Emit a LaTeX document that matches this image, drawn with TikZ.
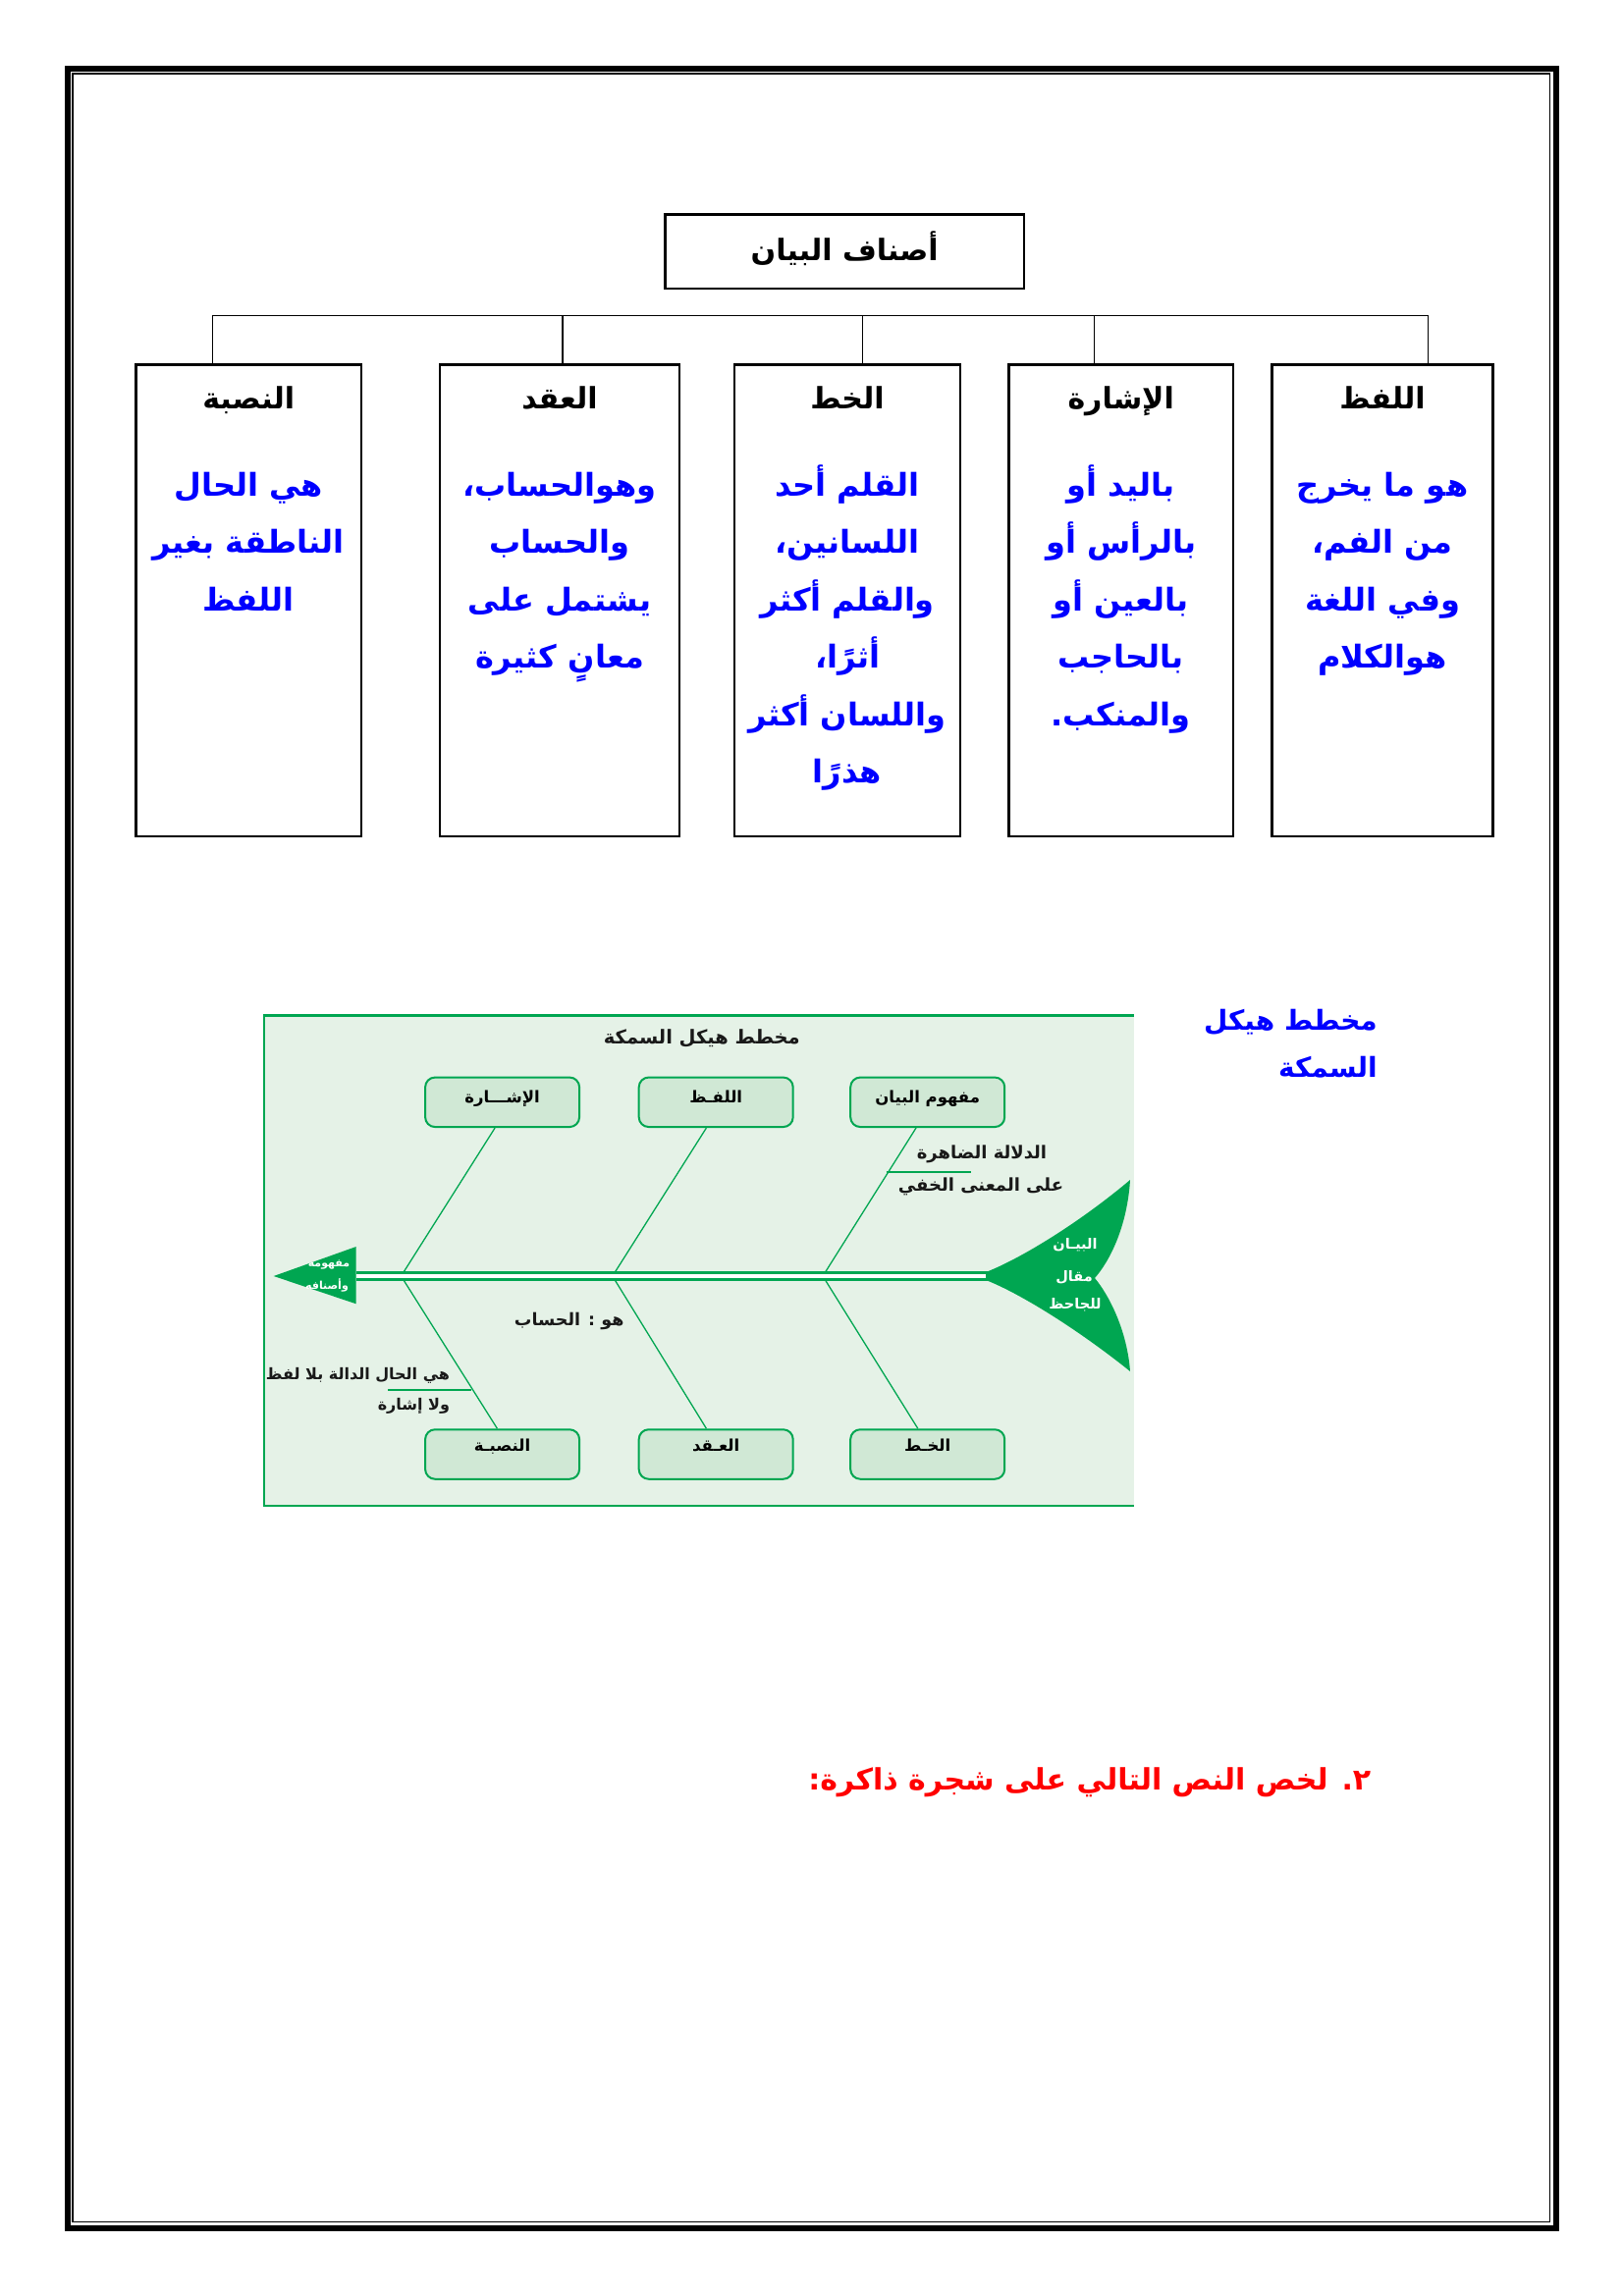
\documentclass[tikz,border=0pt]{standalone}
\usepackage{fontspec}
\newfontfamily\arabicfont[Script=Arabic]{DejaVu Sans}
\TeXXeTstate=1
\definecolor{fishgreen}{RGB}{0,166,81}
\definecolor{fishbg}{RGB}{229,242,231}
\definecolor{fishfill}{RGB}{208,232,213}
\definecolor{bodyblue}{RGB}{0,0,255}
\definecolor{taskred}{RGB}{255,0,0}
\newcommand{\ar}[1]{\beginR #1\endR}

\begin{document}
\begin{tikzpicture}[x=1pt,y=-1pt,
    every node/.style={inner sep=0pt,font=\arabicfont\bfseries},
    link/.style={line width=1.6pt},
    catbox/.style={draw,line width=2.5pt,minimum height=480.5},
    headtext/.style={font=\arabicfont\bfseries\fontsize{30}{36}\selectfont},
    bodytext/.style={text=bodyblue,align=center,font=\arabicfont\bfseries\fontsize{32}{58.5}\selectfont},
    fishbox/.style={draw=fishgreen,fill=fishfill,line width=2pt,rounded corners=10pt,
      minimum width=157,minimum height=50.5,font=\arabicfont\bfseries\fontsize{16.5}{19}\selectfont},
    sidetext/.style={text=black!90,font=\arabicfont\bfseries\fontsize{#1}{#1}\selectfont},
    whitetext/.style={text=white,font=\arabicfont\bfseries\fontsize{#1}{#1}\selectfont},
    bone/.style={fishgreen,line width=1.3pt},
    spine/.style={draw=fishgreen,line width=2.7pt,double=white,double distance=4.7pt}]
    \useasboundingbox (0,0) rectangle (1653,2339);
    % Doppelter Rahmen, dann Baum, dann Fischgraete.
    \draw[line width=6pt] (69,69.7) rectangle (1584.7,2269.7);
    \draw[line width=1.3pt] (74,75) rectangle (1578.3,2263.5);
    \node[draw,line width=2.5pt,minimum width=365.5,minimum height=75.5,text height=30pt,text depth=11.2pt,
      font=\arabicfont\bfseries\fontsize{30}{36}\selectfont] (title) at (860.2,256.4) {\ar{أصناف البيان}};
    \foreach \i/\cx/\bw/\vx in {1/253.2/229.6/216.4,2/570/244.2/572.8,3/863/229.6/878.6,
        4/1141.7/228.6/1114.6,5/1408/225/1454.4}{
      \node[catbox,minimum width=\bw] (b\i) at (\cx,611.6) {};
      \coordinate (c\i) at (\vx,321.4);
      \draw[link] (c\i) -- (c\i |- b\i.north);
    }
    \draw[link] (c1) -- (c5);
    \foreach \i/\head/\body in {
      1/النصبة/{\ar{هي الحال}\\\ar{الناطقة بغير}\\\ar{اللفظ}},
      2/العقد/{\ar{وهوالحساب،}\\\ar{والحساب}\\\ar{يشتمل على}\\\ar{معانٍ كثيرة}},
      3/الخط/{\ar{القلم أحد}\\\ar{اللسانين،}\\\ar{والقلم أكثر}\\\ar{أثرًا،}\\\ar{واللسان أكثر}\\\ar{هذرًا}},
      4/الإشارة/{\ar{باليد أو}\\\ar{بالرأس أو}\\\ar{بالعين أو}\\\ar{بالحاجب}\\\ar{والمنكب.}},
      5/اللفظ/{\ar{هو ما يخرج}\\\ar{من الفم،}\\\ar{وفي اللغة}\\\ar{هوالكلام}}}{
      \node[headtext,anchor=base] (h\i) at ([yshift=-46pt]b\i.north) {\ar{\head}};
      \node[bodytext,anchor=north] (t\i) at ([yshift=-94pt]b\i.north) {\strut\body};
    }
    \fill[fishbg] (268.8,1034.5) rectangle (1154.8,1533.8);
    \draw[fishgreen,line width=2.2pt] (1154.8,1034.5) -- (268.8,1034.5) -- (268.8,1533.8) -- (1154.8,1533.8);
    \node[sidetext=19.5,anchor=base] (ftitle) at (714.8,1063) {\ar{مخطط هيكل السمكة}};
    \foreach \i/\cx/\jx/\us/\ds/\up/\down in {1/511.6/408.5/-7.5/-5.2/الإشـــارة/النصبـة,
        2/729.2/623.8/-9.8/-9.8/اللفـظ/العـقد,3/944.7/838/-11.7/-9.9/مفهوم البيان/الخـط}{
      \node[fishbox,text height=12pt,text depth=10pt] (u\i) at (\cx,1122.8) {\ar{\up}};
      \node[fishbox,text height=10pt,text depth=16pt] (d\i) at (\cx,1481.5) {\ar{\down}};
      \coordinate (j\i) at (\jx,1300);
      \draw[bone] ([xshift=\us]u\i.south) -- (j\i) -- ([xshift=\ds]d\i.north);
    }
    \coordinate (s0) at (362.7,1300);
    \coordinate (s1) at (1006,1300);
    \draw[spine] (s0) -- (s1);
    \fill[fishgreen] (278.7,1300) -- (362.7,1270) -- (362.7,1328.3) -- cycle;
    \fill[fishgreen] (1004,1296) .. controls (1040,1282) and (1100,1245) .. (1151,1202)
      .. controls (1148,1250) and (1130,1285) .. (1115,1302)
      .. controls (1130,1320) and (1148,1356) .. (1151,1397)
      .. controls (1100,1356) and (1040,1318) .. (1004,1304) -- cycle;
    \node[whitetext=11,anchor=base] (a1) at (335,1290) {\ar{مفهومه}};
    \node[whitetext=11,anchor=base] (a2) at (333,1313) {\ar{وأصنافه}};
    \node[whitetext=14.5,anchor=base] (f1) at (1095,1272) {\ar{البيـان}};
    \node[whitetext=14.5,anchor=base] (f2) at (1094,1305) {\ar{مقال}};
    \node[whitetext=14.5,anchor=base] (f3) at (1095,1333) {\ar{للجاحظ}};
    \node[sidetext=18,anchor=base] (n1) at (1000,1180) {\ar{الدلالة الضاهرة}};
    \node[sidetext=18,anchor=base] (n2) at (999,1213) {\ar{على المعنى الخفي}};
    \draw[fishgreen,line width=2pt] (902.5,1193.9) -- (989.3,1193.9);
    \node[sidetext=17.5,anchor=base] (n3) at (579.7,1350) {\ar{هو : الحساب}};
    \node[sidetext=16,anchor=base east] (n4) at (458.3,1405) {\ar{هي الحال الدالة بلا لفظ}};
    \node[sidetext=16,anchor=base east] (n5) at (458.3,1436) {\ar{ولا إشارة}};
    \draw[fishgreen,line width=2pt] (395,1416) -- (480,1416);
    \node[text=bodyblue,align=right,anchor=north east,font=\arabicfont\bfseries\fontsize{28}{48}\selectfont]
      (note) at (1403,1016) {\strut\ar{مخطط هيكل}\\\ar{السمكة}};
    \node[text=taskred,anchor=base east,font=\arabicfont\bfseries\fontsize{30}{36}\selectfont]
      (task) at (1396.6,1823) {\ar{٢. لخص النص التالي على شجرة ذاكرة:}};
\end{tikzpicture}
\end{document}
